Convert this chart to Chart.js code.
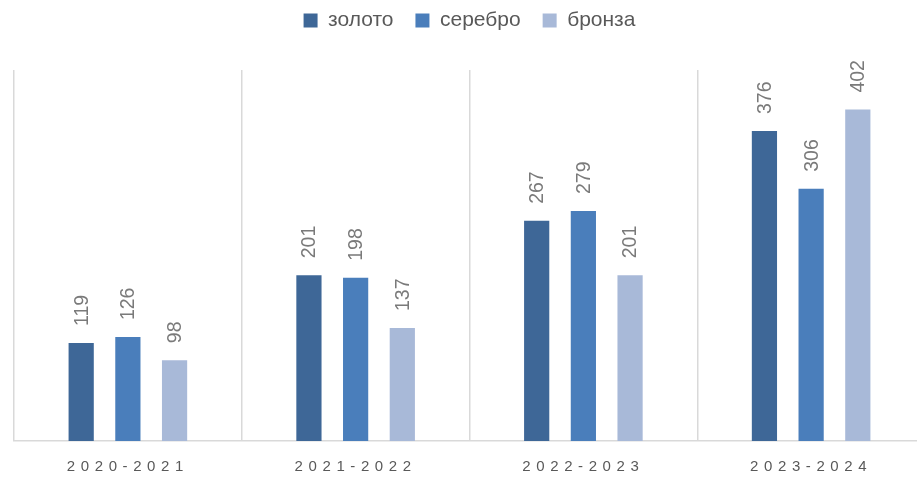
<!DOCTYPE html>
<html>
<head>
<meta charset="utf-8">
<script src="https://cdn.jsdelivr.net/npm/chart.js@4/dist/chart.umd.min.js"></script>
<style>
  html, body { margin: 0; padding: 0; background: #fff; overflow: hidden; }
  #wrap { width: 925px; height: 477px; }
</style>
</head>
<body>
<div id="wrap"><canvas id="medalChart"></canvas></div>
<script>
var seasons = ['2020-2021', '2021-2022', '2022-2023', '2023-2024'];
var seriesNames = ['золото', 'серебро', 'бронза'];
var gold = [119, 201, 267, 376];
var silver = [126, 198, 279, 306];
var bronze = [98, 137, 201, 402];

var colors = ['#3E6797', '#4A7EBB', '#A8B9D8'];
var textColor = '#595959';
var fontFamily = '"Liberation Sans", Arial, sans-serif';

// подписи значений над столбцами (повернутые)
var valueLabels = {
    id: 'valueLabels',
    afterDatasetsDraw: function (chart) {
        var ctx = chart.ctx;
        ctx.save();
        ctx.fillStyle = '#7A7A7A';
        ctx.font = '19.5px ' + fontFamily;
        ctx.textAlign = 'left';
        ctx.textBaseline = 'middle';
        chart.data.datasets.forEach(function (ds, i) {
            var meta = chart.getDatasetMeta(i);
            meta.data.forEach(function (bar, j) {
                ctx.save();
                ctx.translate(bar.x + 1, bar.y - 17);
                ctx.rotate(-Math.PI / 2);
                ctx.fillText(String(ds.data[j]), 0, 0);
                ctx.restore();
            });
        });
        ctx.restore();
    }
};

// подписи категорий с разрядкой
var spacedTicks = {
    id: 'spacedTicks',
    afterDraw: function (chart) {
        var ctx = chart.ctx;
        var x = chart.scales.x;
        ctx.save();
        ctx.fillStyle = textColor;
        ctx.font = '15px ' + fontFamily;
        ctx.letterSpacing = '5.6px';
        ctx.textAlign = 'center';
        ctx.textBaseline = 'middle';
        seasons.forEach(function (s, i) {
            ctx.fillText(s, x.getPixelForValue(i), 467);
        });
        ctx.restore();
    }
};

// больше места под легендой
var legendGap = {
    id: 'legendGap',
    beforeInit: function (chart) {
        var fit = chart.legend.fit;
        chart.legend.fit = function () {
            fit.bind(chart.legend)();
            this.height = 82;
        };
    }
};

var ctx = document.getElementById('medalChart');
new Chart(ctx, {
    type: 'bar',
    data: {
        labels: seasons,
        datasets: [
            { label: seriesNames[0], data: gold, backgroundColor: colors[0] },
            { label: seriesNames[1], data: silver, backgroundColor: colors[1] },
            { label: seriesNames[2], data: bronze, backgroundColor: colors[2] }
        ]
    },
    options: {
        responsive: true,
        maintainAspectRatio: false,
        animation: false,
        datasets: {
            bar: { categoryPercentage: 0.615, barPercentage: 0.54 }
        },
        layout: { padding: { left: 14, right: 0, top: -12, bottom: 36 } },
        plugins: {
            legend: {
                position: 'top',
                labels: {
                    boxWidth: 14,
                    boxHeight: 14,
                    padding: 22,
                    color: textColor,
                    font: { family: fontFamily, size: 21 }
                }
            },
            tooltip: { enabled: false }
        },
        scales: {
            x: {
                ticks: { display: false },
                grid: { color: '#D9D9D9', lineWidth: 1.5, drawTicks: false, offset: true },
                border: { color: '#D9D9D9', width: 1.5 }
            },
            y: {
                display: false,
                min: 0,
                max: 450
            }
        }
    },
    plugins: [valueLabels, spacedTicks, legendGap]
});
</script>
</body>
</html>
